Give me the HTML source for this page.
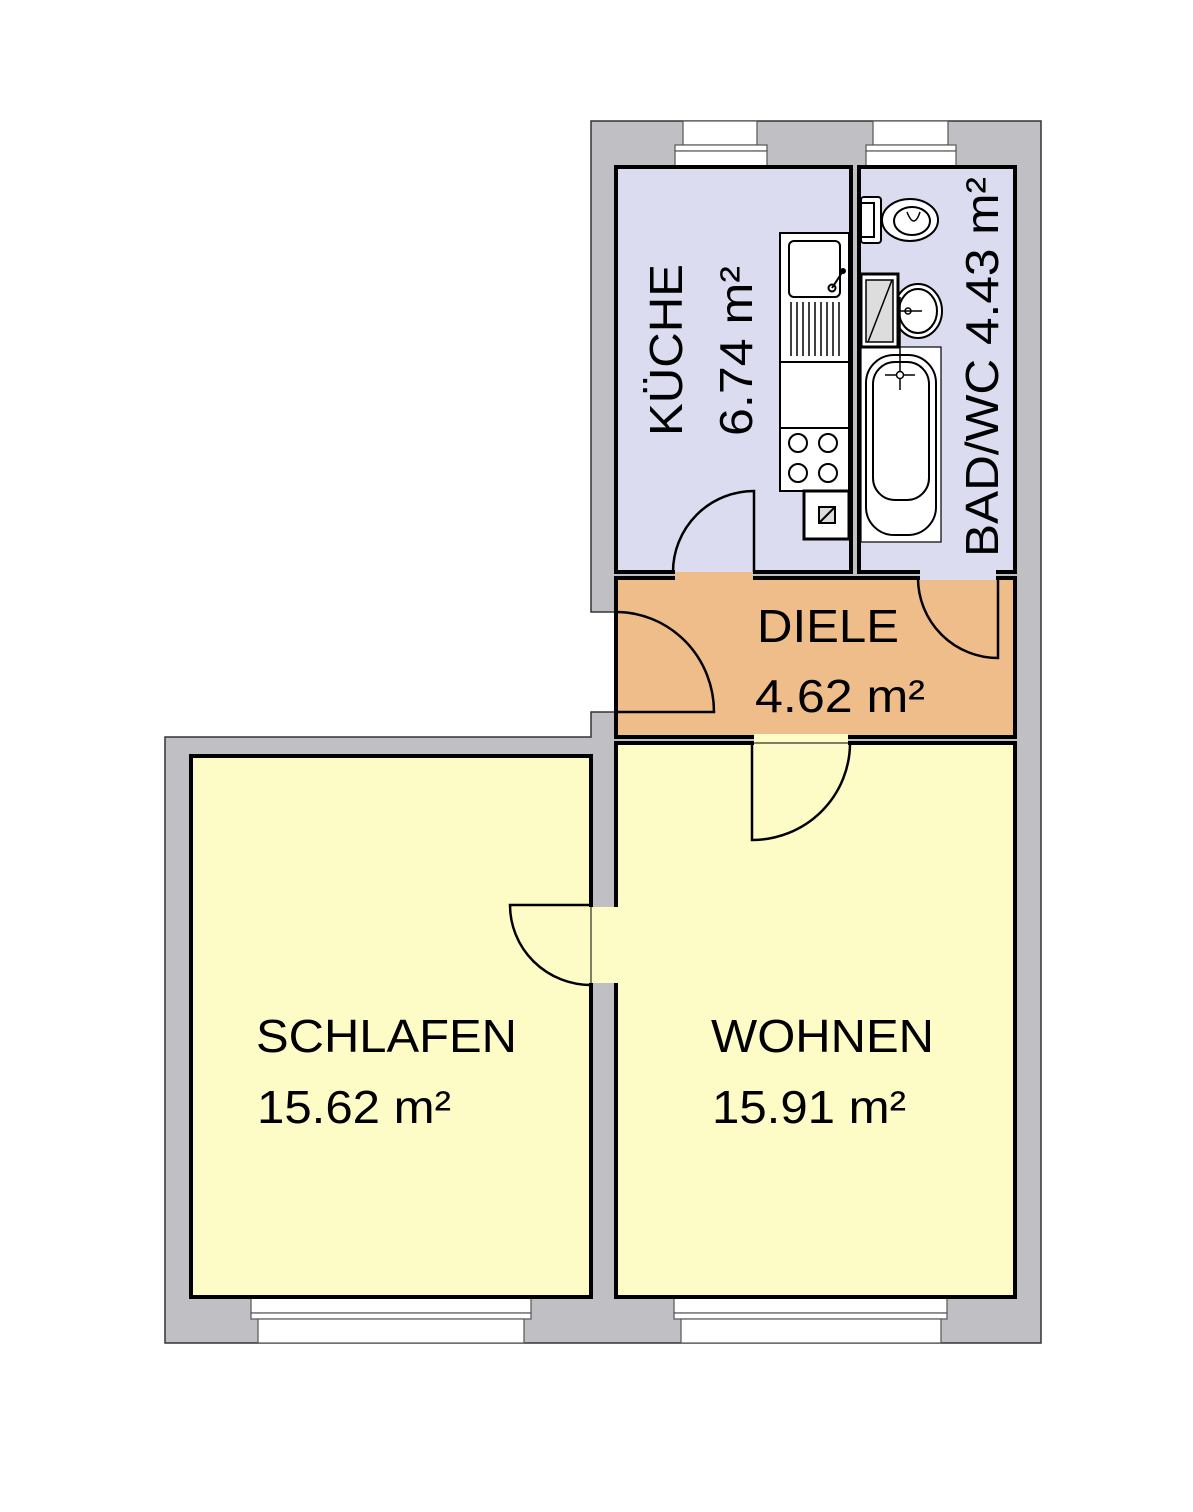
<!DOCTYPE html>
<html><head><meta charset="utf-8"><style>html,body{margin:0;padding:0;background:#fff}svg{display:block}</style></head>
<body>
<svg width="1193" height="1512" viewBox="0 0 1193 1512" xmlns="http://www.w3.org/2000/svg" font-family="Liberation Sans, Arial, sans-serif">
<path d="M591 121 H1041 V1343 H165 V737 H591 V712 H616 V612 H591 Z" fill="#c0c0c4" stroke="#333" stroke-width="1.5"/>
<g fill="#fff" stroke="#555" stroke-width="1.2">
<rect x="683" y="121" width="74" height="24"/><rect x="675" y="145" width="92" height="6"/><rect x="675" y="151" width="92" height="16"/>
<rect x="873" y="121" width="75" height="24"/><rect x="866" y="145" width="90" height="6"/><rect x="866" y="151" width="90" height="16"/>
<rect x="251" y="1297" width="280" height="16"/><rect x="251" y="1313" width="280" height="6"/><rect x="258" y="1319" width="266" height="24"/>
<rect x="674" y="1297" width="273" height="16"/><rect x="674" y="1313" width="273" height="6"/><rect x="681" y="1319" width="260" height="24"/>
</g>
<rect x="591" y="614" width="23" height="96" fill="#fff"/>
<rect x="616" y="167" width="235" height="405" fill="#dcdcf0" stroke="#000" stroke-width="4"/>
<rect x="859" y="167" width="156" height="405" fill="#dcdcf0" stroke="#000" stroke-width="4"/>
<rect x="616" y="578" width="399" height="159" fill="#efbd8a" stroke="#000" stroke-width="4"/>
<rect x="191" y="756" width="400" height="541" fill="#fdfbc6" stroke="#000" stroke-width="4"/>
<rect x="616" y="743" width="399" height="554" fill="#fdfbc6" stroke="#000" stroke-width="4"/>
<rect x="675" y="568" width="78" height="12" fill="#efbd8a"/>
<rect x="675" y="566" width="78" height="6" fill="#dcdcf0"/>
<rect x="920" y="566" width="76" height="14" fill="#dcdcf0"/>
<rect x="754" y="734" width="94" height="12" fill="#fdfbc6"/>
<rect x="588" y="907" width="31" height="76" fill="#fdfbc6"/>
<line x1="591" y1="905" x2="591" y2="985" stroke="#000" stroke-width="1"/>
<line x1="752" y1="743" x2="850" y2="743" stroke="#000" stroke-width="1"/>
<g fill="none" stroke="#000" stroke-width="2.5">
<path d="M754 572 V491 A81 81 0 0 0 673 572"/>
<path d="M998 578 V658 A80 80 0 0 1 918 578"/>
<path d="M616 712 H714 A98 100 0 0 0 616 612"/>
<path d="M752 743 V840 A98 97 0 0 0 850 743"/>
<path d="M591 905 H510 A81 80 0 0 0 591 985"/>
</g>
<g fill="#fff" stroke="#000" stroke-width="2">
<rect x="780" y="233" width="69" height="258"/>
<rect x="789" y="241" width="51" height="56" rx="5"/>
<circle cx="832" cy="288" r="3.5"/>
<line x1="832" y1="288" x2="843" y2="271"/>
<line x1="780" y1="362" x2="849" y2="362"/><line x1="780" y1="428" x2="849" y2="428"/>
<circle cx="798" cy="443" r="9"/><circle cx="828" cy="443" r="9"/>
<circle cx="798" cy="473" r="9"/><circle cx="828" cy="473" r="9"/>
<rect x="804" y="491" width="45" height="48" stroke-width="3"/>
<rect x="819" y="507" width="16" height="16" fill="#ddd"/>
<line x1="819" y1="523" x2="835" y2="507"/>
</g>
<g stroke="#000" stroke-width="1.5">
<line x1="791" y1="302" x2="791" y2="356"/><line x1="797" y1="302" x2="797" y2="356"/><line x1="803" y1="302" x2="803" y2="356"/><line x1="809" y1="302" x2="809" y2="356"/><line x1="815" y1="302" x2="815" y2="356"/><line x1="821" y1="302" x2="821" y2="356"/><line x1="827" y1="302" x2="827" y2="356"/><line x1="833" y1="302" x2="833" y2="356"/><line x1="839" y1="302" x2="839" y2="356"/>
</g>
<circle cx="843" cy="271" r="3" fill="#000"/>
<g fill="#fff" stroke="#000" stroke-width="2">
<rect x="861" y="197" width="20" height="46" rx="3"/>
<rect x="861" y="203" width="13" height="34"/>
<ellipse cx="910" cy="220" rx="28" ry="21"/>
<ellipse cx="912" cy="221" rx="18" ry="14"/>
<rect x="861" y="347" width="80" height="195" stroke-width="1.2"/>
<rect x="866" y="355" width="70" height="180" rx="28"/>
<rect x="873" y="362" width="56" height="138" rx="22"/>
<ellipse cx="918" cy="311" rx="24" ry="27"/>
<ellipse cx="918" cy="311" rx="19" ry="22"/>
<rect x="861" y="274" width="37" height="73" stroke-width="3"/>
<rect x="866" y="280" width="27" height="62" fill="#ddd" stroke-width="1.5"/>
</g>
<path d="M868 342 L892 280" stroke="#000" stroke-width="1.5"/>
<path d="M907 212 Q914 230 920 212" fill="none" stroke="#000" stroke-width="1.5"/>
<g stroke="#000" stroke-width="1.5" fill="none">
<line x1="900" y1="297" x2="900" y2="390"/><line x1="898" y1="311" x2="922" y2="311"/><circle cx="908" cy="311" r="3"/>
<line x1="885" y1="375" x2="915" y2="375"/><circle cx="900" cy="375" r="3.5" fill="#fff"/>
</g>
<g fill="#000" font-size="46">
<text transform="translate(682,436) rotate(-90)" textLength="172" lengthAdjust="spacingAndGlyphs">KÜCHE</text>
<text transform="translate(752,436) rotate(-90)" textLength="170" lengthAdjust="spacingAndGlyphs">6.74 m²</text>
<text transform="translate(998,557) rotate(-90)" textLength="380" lengthAdjust="spacingAndGlyphs">BAD/WC 4.43 m²</text>
<text x="757" y="642" textLength="142" lengthAdjust="spacingAndGlyphs">DIELE</text>
<text x="755" y="712" textLength="170" lengthAdjust="spacingAndGlyphs">4.62 m²</text>
<text x="256" y="1052" textLength="261" lengthAdjust="spacingAndGlyphs">SCHLAFEN</text>
<text x="257" y="1123" textLength="194" lengthAdjust="spacingAndGlyphs">15.62 m²</text>
<text x="711" y="1052" textLength="223" lengthAdjust="spacingAndGlyphs">WOHNEN</text>
<text x="712" y="1123" textLength="194" lengthAdjust="spacingAndGlyphs">15.91 m²</text>
</g>
</svg>
</body></html>
